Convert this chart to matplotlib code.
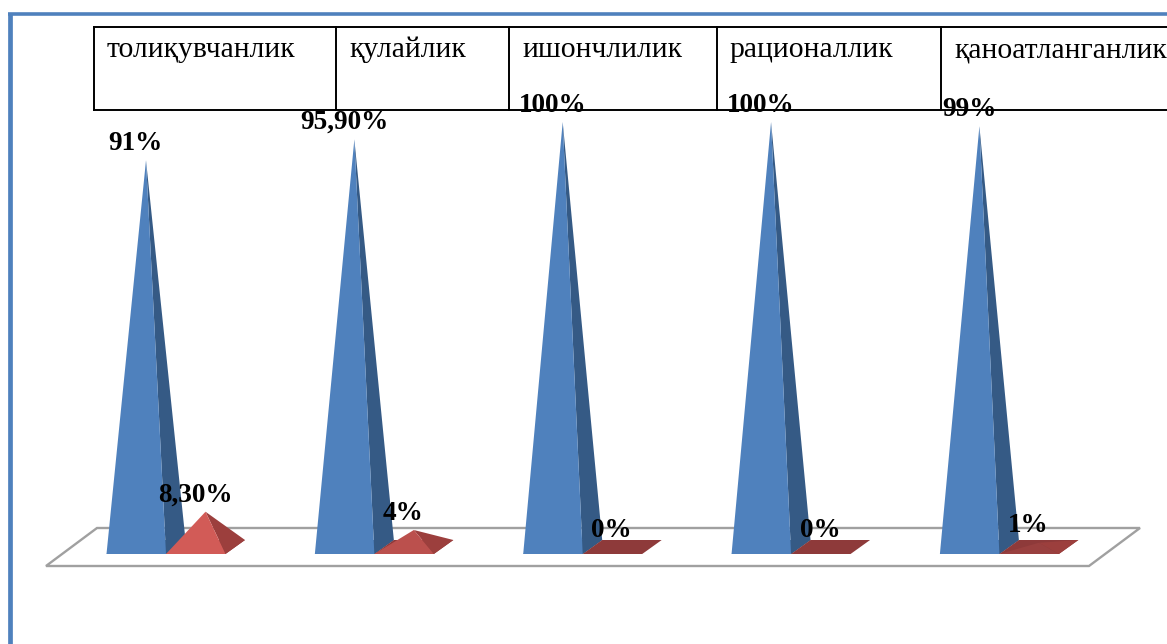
from matplotlib import pyplot as plt
from matplotlib.colors import to_rgb
from matplotlib.patches import Polygon

headers = ['толиқувчанлик', 'қулайлик', 'ишончлилик', 'рационаллик', 'қаноатланганлик']
blue_values = [91, 95.9, 100, 100, 99]
red_values = [8.3, 4, 0, 0, 1]
blue_labels = ['91%', '95,90%', '100%', '100%', '99%']
red_labels = ['8,30%', '4%', '0%', '0%', '1%']

W, H = 1167, 644
SERIF = ['Liberation Serif', 'DejaVu Serif']

# 1 категория = 208.35 px, 1% = 4.25 px
PX_X = 208.35
PX_Y = 4.25
X0 = 166
Y0 = 547
BAR_W = 59.5 / PX_X
DEPTH_X = 19.5 / PX_X
DEPTH_Y = 7 / PX_Y


def draw_pyramid(ax, left, value, front, side, base):
    fl = (left, -DEPTH_Y)
    fr = (left + BAR_W, -DEPTH_Y)
    bl = (left + DEPTH_X, DEPTH_Y)
    br = (left + BAR_W + DEPTH_X, DEPTH_Y)
    apex = (left + (BAR_W + DEPTH_X) / 2, value)

    ax.add_patch(Polygon([fl, fr, br, bl], color=base, lw=0))
    if value > 0:
        # низкие пирамиды темнее, светлая грань почти не видна
        k = min(value / 6, 1)
        lit = tuple(b + (f - b) * k for f, b in zip(to_rgb(front), to_rgb(base)))
        ax.add_patch(Polygon([fr, br, apex], color=side, lw=0))
        ax.add_patch(Polygon([fl, fr, apex], color=lit, lw=0))
    return apex


def add_label(ax, apex, text):
    ax.annotate(text, xy=apex, xytext=(-7.5, 7.5), textcoords='offset points',
                ha='center', va='baseline', fontsize=19.6, fontweight='bold',
                family=SERIF, color='black', zorder=5)


fig = plt.figure(figsize=(W / 100, H / 100), dpi=100)

# фон: рамка, пол диаграммы, таблица (координаты в пикселях)
bg = fig.add_axes([0, 0, 1, 1], zorder=0)
bg.set_xlim(0, W)
bg.set_ylim(H, 0)
bg.axis('off')

bg.plot([9.5, 9.5], [H, 14], color='#4F81BD', lw=3.4, solid_capstyle='butt')
bg.plot([7.5, W], [14, 14], color='#4F81BD', lw=2.6, solid_capstyle='butt')

bg.add_patch(Polygon([(46, 566), (1089, 566), (1140, 528), (97, 528)],
                     facecolor='white', edgecolor='#A0A0A0', lw=1.7, joinstyle='miter'))

cells = [94, 336, 509, 717, 941]
text_x = [107, 349, 522, 729, 954]
bg.plot([94, W], [27, 27], color='black', lw=1.4)
bg.plot([94, W], [110, 110], color='black', lw=1.4)
for x in cells:
    bg.plot([x, x], [27, 110], color='black', lw=1.4)
for x, name in zip(text_x, headers):
    bg.text(x, 57, name, fontsize=21.3, family=SERIF, color='black', va='baseline')

# диаграмма: x - категории, y - проценты
ax = fig.add_axes([0, 0, 1, 1], zorder=1)
ax.set_xlim(-X0 / PX_X, (W - X0) / PX_X)
ax.set_ylim((Y0 - H) / PX_Y, Y0 / PX_Y)
ax.axis('off')

for i in range(len(headers)):
    apex = draw_pyramid(ax, i - BAR_W, blue_values[i], '#4F81BD', '#355A85', '#355A85')
    add_label(ax, apex, blue_labels[i])
    apex = draw_pyramid(ax, i, red_values[i], '#D25B57', '#9C3F3D', '#8E3A3A')
    add_label(ax, apex, red_labels[i])

fig.savefig('out.png', dpi=100)
